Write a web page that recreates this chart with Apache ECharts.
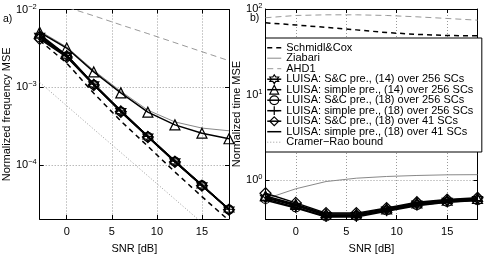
<!DOCTYPE html>
<html><head><meta charset="utf-8">
<script src="https://cdn.jsdelivr.net/npm/echarts@6/dist/echarts.min.js"></script>
<style>html,body{margin:0;padding:0;background:#fff}#c{width:485px;height:259px}</style>
</head><body><div id="c"></div>
<script>
// ---- data ----
const snr = [-3, 0, 3, 6, 9, 12, 15, 18];
const xTicks = [0, 5, 10, 15];
const names = ['Schmidl&Cox', 'Ziabari', 'AHD1',
  'LUISA: S&C pre., (14) over 256 SCs', 'LUISA: simple pre., (14) over 256 SCs',
  'LUISA: S&C pre., (18) over 256 SCs', 'LUISA: simple pre., (18) over 256 SCs',
  'LUISA: S&C pre., (18) over 41 SCs', 'LUISA: simple pre., (18) over 41 SCs',
  'Cramer\u2212Rao bound'];
// a) frequency MSE
const fSC        = [4.0e-3, 2.05e-3, 8.4e-4, 3.7e-4, 1.75e-4, 8.2e-5, 3.95e-5, 1.95e-5];
const fZiabari   = [5.3e-3, 3.3e-3, 1.65e-3, 8.9e-4, 5.1e-4, 3.6e-4, 3.0e-4, 2.77e-4];
const fAHD1      = [1.4e-2, 1.07e-2, 8.3e-3, 6.35e-3, 4.9e-3, 3.75e-3, 2.87e-3, 2.2e-3];
const fSC14      = [4.6e-3, 2.55e-3, 1.09e-3, 4.95e-4, 2.34e-4, 1.12e-4, 5.5e-5, 2.7e-5];
const fSimple14  = [5.1e-3, 3.2e-3, 1.58e-3, 8.5e-4, 4.8e-4, 3.3e-4, 2.58e-4, 2.19e-4];
const fSC18      = [4.4e-3, 2.5e-3, 1.08e-3, 4.9e-4, 2.32e-4, 1.11e-4, 5.5e-5, 2.7e-5];
const fSimple18  = [4.8e-3, 2.58e-3, 1.1e-3, 5.0e-4, 2.35e-4, 1.13e-4, 5.55e-5, 2.72e-5];
const fSC18s     = [4.2e-3, 2.45e-3, 1.07e-3, 4.85e-4, 2.3e-4, 1.1e-4, 5.45e-5, 2.68e-5];
const fSimple18s = [4.5e-3, 2.6e-3, 1.1e-3, 5.0e-4, 2.36e-4, 1.13e-4, 5.55e-5, 2.72e-5];
const fCRB       = [1.16e-3, 5.8e-4, 2.9e-4, 1.46e-4, 7.3e-5, 3.66e-5, 1.83e-5, 9.2e-6];
// b) time MSE
const tSC        = [69, 65, 61, 57, 53, 50.5, 49, 48.5];
const tZiabari   = [0.6, 0.79, 0.96, 1.05, 1.1, 1.13, 1.15, 1.155];
const tAHD1      = [79, 84, 85.5, 85.5, 84, 81, 77.5, 74];
const tSC14      = [0.62, 0.50, 0.39, 0.39, 0.45, 0.53, 0.57, 0.60];
const tSimple14  = [0.65, 0.52, 0.40, 0.40, 0.46, 0.54, 0.58, 0.61];
const tSC18      = [0.60, 0.48, 0.375, 0.38, 0.44, 0.51, 0.555, 0.58];
const tSimple18  = [0.58, 0.47, 0.37, 0.37, 0.43, 0.50, 0.55, 0.575];
const tSC18s     = [0.70, 0.54, 0.41, 0.41, 0.47, 0.55, 0.59, 0.62];
const tSimple18s = [0.63, 0.51, 0.385, 0.385, 0.45, 0.52, 0.565, 0.595];

// ---- styles ----
const FONT = 'Liberation Sans';
const hexagram = 'path://M0,-10L2.887,-5L8.66,-5L5.774,0L8.66,5L2.887,5L0,10L-2.887,5L-8.66,5L-5.774,0L-8.66,-5L-2.887,-5Z';
const plus = 'path://M-5,0L5,0M0,-5L0,5';
const styles = [
  {color: '#000', width: 1.5, type: [5, 4], symbol: 'none'},
  {color: '#888', width: 1, type: 'solid', symbol: 'none'},
  {color: '#999', width: 1, type: [6, 4], symbol: 'none'},
  {color: '#000', width: 1.5, type: 'solid', symbol: hexagram, size: 10},
  {color: '#000', width: 1.5, type: 'solid', symbol: 'triangle', size: 10},
  {color: '#000', width: 1.5, type: 'solid', symbol: 'circle', size: 9},
  {color: '#000', width: 1.5, type: 'solid', symbol: plus, size: 10},
  {color: '#000', width: 1.5, type: 'solid', symbol: 'diamond', size: 11},
  {color: '#000', width: 1.5, type: 'solid', symbol: 'none'},
  {color: '#999', width: 1, type: [1, 2], symbol: 'none'}
];
const leftData  = [fSC, fZiabari, fAHD1, fSC14, fSimple14, fSC18, fSimple18, fSC18s, fSimple18s, fCRB];
const rightData = [tSC, tZiabari, tAHD1, tSC14, tSimple14, tSC18, tSimple18, tSC18s, tSimple18s, null];

function mk(i, arr, ax) {
  const s = styles[i];
  return {
    type: 'line', name: names[i], xAxisIndex: ax, yAxisIndex: ax,
    data: snr.map((x, k) => [x, arr[k]]),
    symbol: s.symbol, symbolSize: s.size || 0, showSymbol: s.symbol !== 'none',
    lineStyle: {color: s.color, width: s.width, type: s.type},
    itemStyle: {color: 'rgba(0,0,0,0)', borderColor: '#000', borderWidth: 1.2},
    animation: false, silent: true, clip: true, z: 2 + (i >= 3 && i <= 8 ? 1 : 0),
    emphasis: {disabled: true}
  };
}
const series = [];
leftData.forEach((a, i) => series.push(mk(i, a, 0)));
rightData.forEach((a, i) => { if (a) series.push(mk(i, a, 2)); });

const legendData = names.map((n, i) => {
  const s = styles[i];
  const item = {name: n, lineStyle: {color: s.color, width: s.width, type: s.type}};
  if (s.symbol === 'none') item.itemStyle = {color: 'rgba(0,0,0,0)', borderWidth: 0, borderColor: 'rgba(0,0,0,0)'};
  else item.itemStyle = {color: 'rgba(0,0,0,0)', borderColor: '#000', borderWidth: 1.2};
  return item;
});

const supLabel = v => {
  const e = Math.log10(v);
  if (Math.abs(e - Math.round(e)) > 1e-6) return '';
  const r = Math.round(e);
  return '{b|10}{s|' + (r < 0 ? '\u2212' + (-r) : r) + '}';
};
const rich = {b: {fontSize: 11, fontFamily: FONT, color: '#000', lineHeight: 14},
              s: {fontSize: 7.5, fontFamily: FONT, color: '#000', verticalAlign: 'top', lineHeight: 8}};
const gridLine = {show: true, lineStyle: {color: '#999', type: [1, 2], width: 1}};

function xAxis(g, top) {
  return {
    type: 'value', gridIndex: g, min: -3, max: 18, position: top ? 'top' : 'bottom',
    axisLine: {show: true, onZero: false, lineStyle: {color: '#000', width: 1}},
    axisTick: {show: true, inside: true, length: 4, customValues: xTicks, lineStyle: {color: '#000'}},
    axisLabel: {show: !top, customValues: xTicks, margin: 7, fontSize: 11, fontFamily: FONT, color: '#000'},
    splitLine: top ? {show: false} : Object.assign({customValues: xTicks}, gridLine),
    name: top ? '' : 'SNR [dB]', nameLocation: 'middle', nameGap: 24,
    nameTextStyle: {fontSize: 11, fontFamily: FONT, color: '#000'}
  };
}
function yAxis(g, right, min, max, name, gap) {
  return {
    type: 'log', logBase: 10, gridIndex: g, min: min, max: max, position: right ? 'right' : 'left',
    axisLine: {show: true, onZero: false, lineStyle: {color: '#000', width: 1}},
    axisTick: {show: true, inside: true, length: 4, lineStyle: {color: '#000'}},
    axisLabel: {show: !right, formatter: supLabel, rich: rich, margin: 3},
    splitLine: right ? {show: false} : gridLine,
    name: right ? '' : name, nameLocation: 'middle', nameGap: gap || 21,
    nameTextStyle: {fontSize: 11, fontFamily: FONT, color: '#000'}
  };
}

const option = {
  backgroundColor: '#fff',
  animation: false,
  grid: [
    {left: 31, right: 256, top: 9.5, bottom: 29, containLabel: false},
    {left: 265.5, right: 7.5, top: 9, bottom: 29, containLabel: false}
  ],
  xAxis: [xAxis(0, false), xAxis(0, true), xAxis(1, false), xAxis(1, true)],
  yAxis: [
    yAxis(0, false, 2.04e-5, 1e-2, 'Normalized frequency MSE', 21),
    yAxis(0, true, 2.04e-5, 1e-2, ''),
    yAxis(1, false, 0.35, 100, 'Normalized time MSE', 18),
    yAxis(1, true, 0.35, 100, '')
  ],
  legend: {
    data: legendData, orient: 'vertical', left: 265.5, top: 38,
    itemWidth: 14, itemHeight: 11, itemGap: -0.5,
    padding: [4.2, 8.5, 4.3, 1],
    backgroundColor: '#fff', borderColor: '#000', borderWidth: 1, borderRadius: 0,
    textStyle: {fontSize: 11, fontFamily: FONT, color: '#000', lineHeight: 10},
    selectedMode: false, z: 10
  },
  graphic: [
    {type: 'text', left: 3, top: 14, style: {text: 'a)', fontSize: 10.5, fontFamily: FONT, fill: '#000'}},
    {type: 'text', left: 250, top: 13, style: {text: 'b)', fontSize: 10.5, fontFamily: FONT, fill: '#000'}}
  ],
  series: series
};
const chart = echarts.init(document.getElementById('c'), null, {renderer: 'canvas'});
chart.setOption(option);
</script>
</body></html>
